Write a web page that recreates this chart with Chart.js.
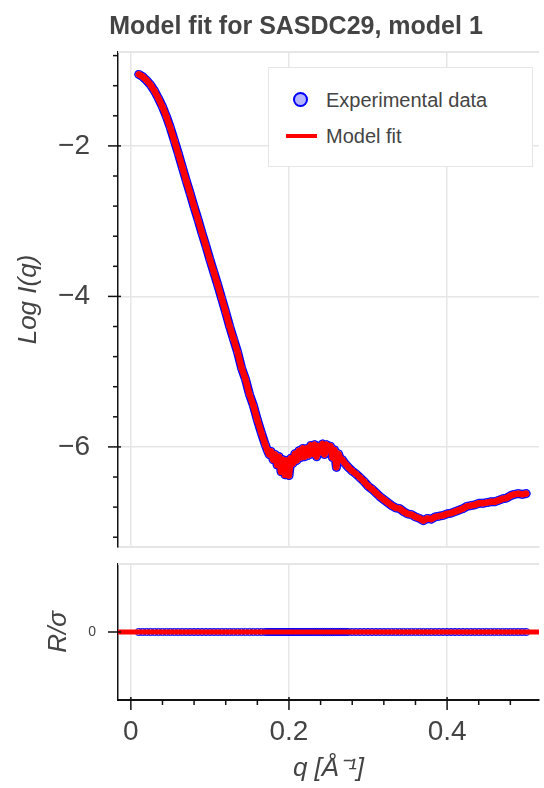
<!DOCTYPE html>
<html>
<head>
<meta charset="utf-8">
<script src="https://cdn.jsdelivr.net/npm/chart.js@4.4.1/dist/chart.umd.min.js"></script>
<style>
 body{margin:0;background:#fff;font-family:"Liberation Sans",Arial,sans-serif;}
 #wrap{position:relative;width:544px;height:788px;overflow:hidden;background:#fff;}
 #title{position:absolute;top:11px;left:0;width:592px;text-align:center;font-weight:bold;font-size:25px;color:#444;}
 #main{position:absolute;left:0;top:0;}
 #resid{position:absolute;left:0;top:552px;}
 #legend{position:absolute;left:268px;top:67px;width:263px;height:98px;border:1.5px solid #e6e6e6;background:#fff;}
 #legend .txt{position:absolute;left:57px;font-size:20px;line-height:24px;color:#444;white-space:nowrap;}
 #legend .dot{position:absolute;left:24px;top:24px;width:11px;height:11px;border-radius:50%;background:#b3b3ff;border:2px solid #0000ff;}
 #legend .bar{position:absolute;left:17px;top:66px;width:31px;height:4px;background:#ff0000;}
</style>
</head>
<body>
<div id="wrap">
 <canvas id="main" width="544" height="560"></canvas>
 <canvas id="resid" width="544" height="236"></canvas>
 <div id="title">Model fit for SASDC29, model 1</div>
 <div id="legend">
  <div class="dot"></div><div class="txt" style="top:20px">Experimental data</div>
  <div class="bar"></div><div class="txt" style="top:56px">Model fit</div>
 </div>
</div>
<script>
// scattering vector q (1/Å)
const qValues = [
 0.010,0.015,0.020,0.025,0.030,0.035,0.040,0.045,0.050,0.055,
 0.060,0.065,0.070,0.075,0.080,0.085,0.090,0.095,0.100,0.105,
 0.110,0.115,0.120,0.125,0.130,0.135,0.140,0.145,0.150,0.155,
 0.160,0.165,0.170,
 0.1725,0.1750,0.1775,0.1800,0.1825,0.1850,0.1875,0.1900,0.1925,0.1950,
 0.1975,0.2000,0.2025,0.2050,0.2075,0.2100,0.2125,0.2150,0.2175,0.2200,
 0.2225,0.2250,0.2275,0.2300,0.2325,0.2350,0.2375,0.2400,0.2425,0.2450,
 0.2475,0.2500,0.2525,0.2550,0.2575,0.2600,0.2625,0.2650,0.2675,0.2700,
 0.2725,0.2750,
 0.280,0.285,0.290,0.295,0.300,0.305,0.310,0.315,0.320,0.325,
 0.330,0.335,0.340,0.345,0.350,0.355,0.360,0.365,0.370,0.375,
 0.380,0.385,0.390,0.395,0.400,0.405,0.410,0.415,0.420,0.425,
 0.430,0.435,0.440,0.445,0.450,0.455,0.460,0.465,0.470,0.475,
 0.480,0.485,0.490,0.495,0.500
];
// log I(q), measured
const logI = [
 -1.05,-1.08,-1.13,-1.19,-1.27,-1.37,-1.48,-1.61,-1.76,-1.93,
 -2.10,-2.28,-2.46,-2.63,-2.81,-2.98,-3.16,-3.33,-3.51,-3.68,
 -3.85,-4.03,-4.21,-4.40,-4.57,-4.74,-4.95,-5.10,-5.30,-5.45,
 -5.64,-5.81,-5.97,
 -6.04,-6.10,-6.06,-6.17,-6.10,-6.24,-6.13,-6.33,-6.17,-6.37,
 -6.18,-6.38,-6.15,-6.22,-6.09,-6.18,-6.05,-6.14,-6.02,-6.13,
 -6.02,-6.11,-5.98,-6.09,-5.97,-6.13,-5.99,-6.07,-5.96,-6.10,
 -5.97,-6.04,-5.99,-6.14,-6.04,-6.27,-6.09,-6.16,-6.17,-6.21,
 -6.24,-6.27,
 -6.32,-6.36,-6.41,-6.46,-6.52,-6.56,-6.61,-6.66,-6.70,-6.74,
 -6.78,-6.81,-6.82,-6.86,-6.89,-6.90,-6.93,-6.95,-6.98,-6.95,
 -6.96,-6.93,-6.92,-6.91,-6.89,-6.88,-6.86,-6.84,-6.82,-6.79,
 -6.78,-6.77,-6.75,-6.75,-6.74,-6.73,-6.73,-6.71,-6.69,-6.68,
 -6.65,-6.63,-6.62,-6.63,-6.62
];
// model 1 reproduces the curve point for point
const fitLogI = logI.slice();
// normalised residuals R/sigma
const residuals = [
 0,0,0,0,0,0,0,0,0,0,0,0,0,0,0,0,0,0,0,0,
 0,0,0,0,0,0,0,0,0,0,0,0,0,0,0,0,0,0,0,0,
 0,0,0,0,0,0,0,0,0,0,0,0,0,0,0,0,0,0,0,0,
 0,0,0,0,0,0,0,0,0,0,0,0,0,0,0,0,0,0,0,0,
 0,0,0,0,0,0,0,0,0,0,0,0,0,0,0,0,0,0,0,0,
 0,0,0,0,0,0,0,0,0,0,0,0,0,0,0,0,0,0,0,0
];

const qTicks = [0,0.04,0.08,0.12,0.16,0.2,0.24,0.28,0.32,0.36,0.4,0.44,0.48];
const logTicks = [-7.2,-6.8,-6.4,-6,-5.6,-5.2,-4.8,-4.4,-4,-3.6,-3.2,-2.8,-2.4,-2,-1.6,-1.2,-0.8];
const resTicks = [0];

const qRange = [-0.01625, 0.51625];
const logRange = [-7.33, -0.752];
const resRange = [-1, 1];

Chart.defaults.font.family = '"Liberation Sans", Arial, sans-serif';
Chart.defaults.color = '#444';

const GRID = '#e6e6e6';
const isMajor = (v, step) => Math.abs(v / step - Math.round(v / step)) < 1e-6;
const minus = v => (v < 0 ? '\u2212' : '') + Math.abs(v);
const pts = (ys) => qValues.map((q, i) => ({x: q, y: ys[i]}));

// tick marks: long for labelled values, short for the rest
const axisTicks = {
 id: 'axisTicks',
 afterDraw(chart, args, o) {
  const {ctx, chartArea: a, scales} = chart;
  ctx.save();
  ctx.strokeStyle = GRID; ctx.lineWidth = 2;
  ctx.beginPath(); ctx.moveTo(a.left, a.top); ctx.lineTo(a.right, a.top); ctx.stroke();
  ctx.strokeStyle = '#111'; ctx.lineWidth = 1.5;
  scales.y.ticks.forEach(t => {
   const y = scales.y.getPixelForValue(t.value), big = isMajor(t.value, o.yMajor);
   ctx.beginPath(); ctx.moveTo(a.left - (big ? 10 : 5), y); ctx.lineTo(a.left + (big ? 3 : 0), y); ctx.stroke();
  });
  if (o.xTicks) scales.x.ticks.forEach(t => {
   const x = scales.x.getPixelForValue(t.value), big = isMajor(t.value, 0.2);
   ctx.beginPath(); ctx.moveTo(x, a.bottom - (big ? 3 : 0)); ctx.lineTo(x, a.bottom + (big ? 10 : 5)); ctx.stroke();
  });
  ctx.restore();
 }
};

// fixed box sizes, no extra room reserved for end labels
const fixWidth = w => s => { s.width = w; s.paddingTop = 0; s.paddingBottom = 0; };
const fixHeight = h => s => { s.height = h; s.paddingLeft = 0; s.paddingRight = 0; };

const xScale = (showLabels) => ({
 type: 'linear', min: qRange[0], max: qRange[1],
 afterBuildTicks: s => { s.ticks = qTicks.map(v => ({value: v})); },
 afterFit: fixHeight(showLabels ? 88 : 13),
 grid: {drawTicks: false, lineWidth: 1.5, color: c => c.tick && isMajor(c.tick.value, 0.2) ? GRID : 'rgba(0,0,0,0)'},
 border: showLabels ? {color: '#111', width: 2} : {color: GRID, width: 2},
 ticks: {display: showLabels, autoSkip: false, maxRotation: 0, padding: 15, font: {size: 28},
  callback: v => isMajor(v, 0.2) ? String(+v.toFixed(1)) : ''},
 title: {display: showLabels, text: 'q [Å⁻¹]', font: {size: 26, style: 'italic'}, padding: {top: 0, bottom: 4}}
});

const lineStyle = {showLine: true, pointRadius: 0, tension: 0, borderJoinStyle: 'round', borderCapStyle: 'round'};

new Chart(document.getElementById('main'), {
 type: 'scatter',
 data: {datasets: [
  Object.assign({label: 'Model fit', data: pts(fitLogI), borderColor: '#ff0000', borderWidth: 6.5}, lineStyle),
  Object.assign({label: 'Experimental data', data: pts(logI), borderColor: '#0000ff', borderWidth: 9}, lineStyle,
   {pointRadius: 3.8, pointBorderWidth: 1, pointBackgroundColor: '#b3b3ff', pointBorderColor: '#0000ff'})
 ]},
 options: {
  responsive: false, animation: false, devicePixelRatio: 1,
  layout: {padding: {top: 52, left: 0, right: 0, bottom: 0}},
  plugins: {legend: {display: false}, tooltip: {enabled: false}, axisTicks: {yMajor: 2, xTicks: false}},
  scales: {
   x: xScale(false),
   y: {
    type: 'linear', min: logRange[0], max: logRange[1],
    afterBuildTicks: s => { s.ticks = logTicks.map(v => ({value: v})); },
    afterFit: fixWidth(118),
    grid: {drawTicks: false, lineWidth: 1.5, color: c => c.tick && isMajor(c.tick.value, 2) ? GRID : 'rgba(0,0,0,0)'},
    border: {color: '#111', width: 1.5},
    ticks: {autoSkip: false, padding: 28, font: {size: 28}, callback: v => isMajor(v, 2) ? minus(v) : ''},
    title: {display: true, text: 'Log I(q)', font: {size: 26, style: 'italic'}, padding: {top: 13, bottom: 0}}
   }
  }
 },
 plugins: [axisTicks]
});

new Chart(document.getElementById('resid'), {
 type: 'scatter',
 data: {datasets: [
  {label: 'zero', data: [{x: qRange[0], y: 0}, {x: qRange[1], y: 0}], showLine: true,
   borderColor: '#ff0000', borderWidth: 5, pointRadius: 0},
  {label: 'Residuals', data: pts(residuals), pointRadius: 3.6, pointBorderWidth: 1,
   pointBackgroundColor: 'rgba(0,0,255,0.3)', pointBorderColor: '#0000ff'}
 ]},
 options: {
  responsive: false, animation: false, devicePixelRatio: 1,
  layout: {padding: {top: 12, left: 0, right: 0, bottom: 0}},
  plugins: {legend: {display: false}, tooltip: {enabled: false}, axisTicks: {yMajor: 1, xTicks: true}},
  scales: {
   x: xScale(true),
   y: {
    type: 'linear', min: resRange[0], max: resRange[1],
    afterBuildTicks: s => { s.ticks = resTicks.map(v => ({value: v})); },
    afterFit: fixWidth(118),
    grid: {display: false},
    border: {color: '#111', width: 1.5},
    ticks: {autoSkip: false, padding: 14, font: {size: 14}, callback: v => minus(v)},
    title: {display: true, text: 'R/σ', font: {size: 26, style: 'italic'}, padding: {top: 43, bottom: 0}}
   }
  }
 },
 plugins: [axisTicks]
});
</script>
</body>
</html>
